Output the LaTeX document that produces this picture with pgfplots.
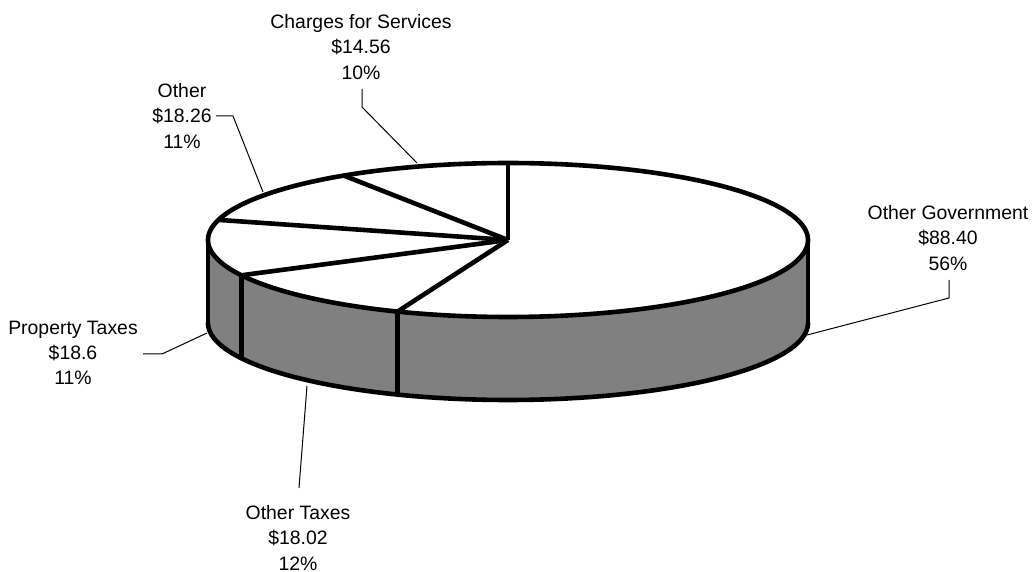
\documentclass[border=0pt]{standalone}
\usepackage{pgfplots}
\pgfplotsset{compat=1.18}
\usepackage{fontspec}
\setmainfont{Liberation Sans}
\definecolor{sidegray}{HTML}{808080}
\tikzset{lbl/.style={align=center, font=\fontsize{9.7}{12.6}\selectfont, inner sep=0pt}}
% slice values (clockwise from 12 o'clock)
\def\vGov{88.40}
\def\vOTax{18.02}
\def\vProp{18.6}
\def\vOther{18.26}
\def\vChg{14.56}
\pgfmathsetmacro\tot{\vGov+\vOTax+\vProp+\vOther+\vChg}
\pgfmathsetmacro\tA{360*(\vGov/\tot)}
\pgfmathsetmacro\tB{360*((\vGov+\vOTax)/\tot)}
\pgfmathsetmacro\tC{360*((\vGov+\vOTax+\vProp)/\tot)}
\pgfmathsetmacro\tD{360*((\vGov+\vOTax+\vProp+\vOther)/\tot)}
\def\cx{508}\def\cy{240}\def\ra{300}\def\rb{77}\def\dd{83}
\def\lw{2.3pt}
\begin{document}
\begin{tikzpicture}
\begin{axis}[
  width=517.5pt, height=286pt, scale only axis,
  xmin=0, xmax=1035, ymin=0, ymax=572, y dir=reverse,
  hide axis, clip=false,
  every axis plot/.append style={line join=round},
]
% side band
\addplot[fill=sidegray, draw=none] coordinates {(208,240) (808,240) (808,323) (208,323)} -- cycle;
\addplot[fill=sidegray, draw=none, domain=90:270, samples=120] ({\cx+\ra*sin(x)},{\cy+\dd-\rb*cos(x)});
\addplot[draw=black, line width=\lw, domain=90:270, samples=120] ({\cx+\ra*sin(x)},{\cy+\dd-\rb*cos(x)});
\addplot[draw=black, line width=\lw] coordinates {(208,240) (208,323)};
\addplot[draw=black, line width=\lw] coordinates {(808,240) (808,323)};
% side boundaries of slices in front
\addplot[draw=black, line width=\lw, domain=0:1, samples=2] ({\cx+\ra*sin(\tA)},{\cy-\rb*cos(\tA)+\dd*x});
\addplot[draw=black, line width=\lw, domain=0:1, samples=2] ({\cx+\ra*sin(\tB)},{\cy-\rb*cos(\tB)+\dd*x});
% top
\addplot[fill=white, draw=black, line width=\lw, domain=0:360, samples=241] ({\cx+\ra*sin(x)},{\cy-\rb*cos(x)}) -- cycle;
% radial lines
\addplot[draw=black, line width=\lw, domain=0:1, samples=2] ({\cx},{\cy-\rb*x});
\addplot[draw=black, line width=\lw, domain=0:1, samples=2] ({\cx+x*\ra*sin(\tA)},{\cy-x*\rb*cos(\tA)});
\addplot[draw=black, line width=\lw, domain=0:1, samples=2] ({\cx+x*\ra*sin(\tB)},{\cy-x*\rb*cos(\tB)});
\addplot[draw=black, line width=\lw, domain=0:1, samples=2] ({\cx+x*\ra*sin(\tC)},{\cy-x*\rb*cos(\tC)});
\addplot[draw=black, line width=\lw, domain=0:1, samples=2] ({\cx+x*\ra*sin(\tD)},{\cy-x*\rb*cos(\tD)});
% leader lines
\addplot[draw=black, line width=0.5pt] coordinates {(362,89) (362,107) (417,163)};
\addplot[draw=black, line width=0.5pt] coordinates {(216,116) (233,116) (263,192)};
\addplot[draw=black, line width=0.5pt] coordinates {(949,280) (949,298) (807,335)};
\addplot[draw=black, line width=0.5pt] coordinates {(143,354) (162,354) (207,333)};
\addplot[draw=black, line width=0.5pt] coordinates {(299,488) (307,386)};
% labels
\node[lbl] at (axis cs:361,47) {Charges for Services\\\$14.56\\10\%};
\node[lbl] at (axis cs:182,116) {Other\\\$18.26\\11\%};
\node[lbl] at (axis cs:948,238) {Other Government\\\$88.40\\56\%};
\node[lbl] at (axis cs:73,353) {Property Taxes\\\$18.6\\11\%};
\node[lbl] at (axis cs:298,538) {Other Taxes\\\$18.02\\12\%};
\end{axis}
\pgfresetboundingbox
\useasboundingbox (current axis.south west) rectangle (current axis.north east);
\end{tikzpicture}
\end{document}
